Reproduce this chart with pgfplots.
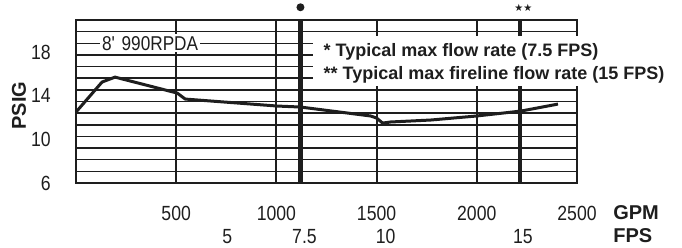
\documentclass[border=0pt]{standalone}
\usepackage{fontspec}
\setmainfont{Liberation Sans}
\newfontfamily\tickfont[FakeStretch=0.86]{Liberation Sans}
\newfontfamily\dejavu{DejaVu Sans}
\usepackage{pgfplots}
\pgfplotsset{compat=1.18}
\definecolor{ink}{HTML}{1E1E1E}
\begin{document}
\begin{tikzpicture}
\path (0,0) rectangle (682pt,245pt);
\begin{axis}[
  at={(76pt,62pt)}, anchor=south west,
  scale only axis, width=501pt, height=163pt,
  xmin=0, xmax=2500, ymin=6, ymax=20.9333,
  clip=false,
  axis line style={line width=2.6pt, ink},
  xtick={500,1000,1500,2000,2500},
  xticklabels={500,1000,1500,2000,2500},
  ytick={6,10,14,18},
  yticklabels={6,10,14,18},
  minor ytick={7.0667,8.1333,9.2,10.2667,11.3333,12.4,13.4667,14.5333,15.6,16.6667,17.7333,18.8,19.8667},
  major tick length=0pt, minor tick length=0pt,
  xmajorgrids=true, ymajorgrids=false, yminorgrids=true,
  major grid style={line width=2pt, ink},
  minor grid style={line width=1.5pt, ink},
  extra x ticks={1120,2215},
  extra x tick labels={},
  extra x tick style={grid=major, major grid style={line width=4.2pt, ink}},
  xticklabel style={anchor=center, yshift=-30pt, font=\tickfont\fontsize{20.5}{20.5}\selectfont, text=ink},
  yticklabel style={anchor=east, inner sep=0pt, xshift=-25pt, font=\tickfont\fontsize{20.5}{20.5}\selectfont, text=ink},
]
% white boxes interrupting the grid
\fill[white] (axis cs:1185,14.88) rectangle (axis cs:3010,19.46);
\node[fill=white, inner sep=2pt, text=ink, font=\tickfont\fontsize{20}{20}\selectfont] at (axis cs:370,18.8) {8'\,\,990RPDA};
% curve
\addplot[ink, line width=3pt, line join=round] coordinates {
(0,12.5) (130,15.25) (195,15.7) (505,14.24) (545,13.69) (1005,13.05) (1120,12.96)
(1470,12.14) (1500,11.95) (1530,11.49) (1570,11.59) (1770,11.77) (2000,12.14) (2220,12.59) (2405,13.23)
};
% legend text
\node[anchor=west, inner sep=0pt, text=ink, font=\fontsize{18}{18}\selectfont\bfseries] at (axis cs:1235,18.0) {* Typical max flow rate (7.5 FPS)};
\node[anchor=west, inner sep=0pt, text=ink, font=\fontsize{18}{18}\selectfont\bfseries] at (axis cs:1235,15.89) {** Typical max fireline flow rate (15 FPS)};
% markers above thick lines
\node[circle, fill=ink, inner sep=0pt, minimum size=8pt] at (axis cs:1120,22.1) {};
\node[inner sep=0pt, text=ink, font=\dejavu\fontsize{10}{10}\selectfont] at (axis cs:2232,22.0) {★★};
% axis titles
\node[rotate=90, text=ink, font=\fontsize{20}{20}\selectfont\bfseries] at (axis cs:-285,13.1) {PSIG};
\node[anchor=west, inner sep=0pt, text=ink, font=\fontsize{20}{20}\selectfont\bfseries] at (axis cs:2680,3.25) {GPM};
\node[anchor=west, inner sep=0pt, text=ink, font=\fontsize{20}{20}\selectfont\bfseries] at (axis cs:2680,1.15) {FPS};
% FPS values
\node[text=ink, font=\tickfont\fontsize{20.5}{20.5}\selectfont] at (axis cs:755,1.06) {5};
\node[text=ink, font=\tickfont\fontsize{20.5}{20.5}\selectfont] at (axis cs:1140,1.06) {7.5};
\node[text=ink, font=\tickfont\fontsize{20.5}{20.5}\selectfont] at (axis cs:1545,1.06) {10};
\node[text=ink, font=\tickfont\fontsize{20.5}{20.5}\selectfont] at (axis cs:2230,1.06) {15};
\end{axis}
\end{tikzpicture}
\end{document}
